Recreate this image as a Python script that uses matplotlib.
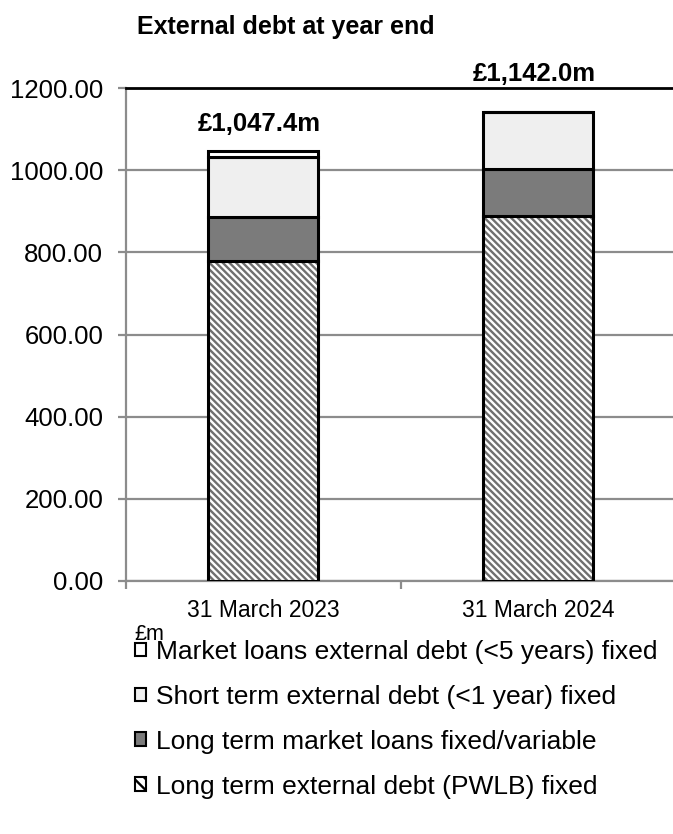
import matplotlib
matplotlib.use("Agg")
import matplotlib.pyplot as plt
from matplotlib.patches import Patch

plt.rcParams['font.family'] = ['Liberation Sans', 'DejaVu Sans']
plt.rcParams['hatch.linewidth'] = 1.7

categories = ["31 March 2023", "31 March 2024"]
pwlb = [779.6, 889.2]
market_long = [107.2, 113.8]
short_term = [146.0, 139.0]
market_short = [14.6, 0.0]
totals = [1047.4, 1142.0]
total_labels = ["£1,047.4m", "£1,142.0m"]

series_names = [
    "Long term external debt (PWLB) fixed",
    "Long term market loans fixed/variable",
    "Short term external debt (<1 year) fixed",
    "Market loans external debt (<5 years) fixed",
]

W, H, DPI = 673, 834, 100
fig = plt.figure(figsize=(W / DPI, H / DPI), dpi=DPI)
ax = fig.add_axes([125.5 / W, 1 - 581 / H, 550 / W, (581 - 88) / H])

x = list(range(len(categories)))
bw = 0.4
edge = "black"
lw = 2.2
hatch = "\\\\\\\\\\"

# hatched base segment: hatch drawn in grey, outline drawn separately in black
ax.bar(x, pwlb, bw, color="white", edgecolor="#707070", hatch=hatch, linewidth=0, zorder=3)
ax.bar(x, pwlb, bw, color="none", edgecolor=edge, linewidth=lw, zorder=4)
b1 = [p for p in pwlb]
ax.bar(x, market_long, bw, bottom=b1, color="#7b7b7b", edgecolor=edge, linewidth=lw, zorder=4)
b2 = [a + b for a, b in zip(b1, market_long)]
ax.bar(x, short_term, bw, bottom=b2, color="#efefef", edgecolor=edge, linewidth=lw, zorder=4)
b3 = [a + b for a, b in zip(b2, short_term)]
ax.bar(x, market_short, bw, bottom=b3, color="white", edgecolor=edge, linewidth=lw, zorder=4)

offsets = [19.5, 27.5]
for xi, t, lab, off in zip(x, totals, total_labels, offsets):
    ax.annotate(lab, (xi, t), xytext=(-2.5, off), textcoords="offset points",
                ha="center", va="center", fontsize=18.5, fontweight="bold",
                annotation_clip=False, zorder=5)

ax.set_xlim(-0.5, 1.5)
ax.set_ylim(0, 1200)
yt = [0, 200, 400, 600, 800, 1000, 1200]
ax.set_yticks(yt)
ax.set_yticklabels([f"{v:.2f}" for v in yt], fontsize=18.5)
ax.yaxis.grid(True, color="#8c8c8c", linewidth=1.6, zorder=0)
ax.set_axisbelow(True)

ax.set_xticks(x)
ax.set_xticklabels(categories, fontsize=16.5)
ax.set_xticks([-0.5, 0.5, 1.5], minor=True)
ax.tick_params(axis="x", which="major", length=0, pad=13)
ax.tick_params(axis="x", which="minor", length=6, width=1.6, color="#8c8c8c")
ax.tick_params(axis="y", length=6, width=1.6, color="#8c8c8c", pad=10)

ax.spines["right"].set_visible(False)
ax.spines["left"].set_color("#8c8c8c")
ax.spines["left"].set_linewidth(1.6)
ax.spines["bottom"].set_color("#8c8c8c")
ax.spines["bottom"].set_linewidth(1.6)
ax.spines["top"].set_color("black")
ax.spines["top"].set_linewidth(2.0)

fig.text(286 / W, 1 - 27 / H, "External debt at year end", ha="center", va="center",
         fontsize=18, fontweight="bold")
fig.text(134 / W, 1 - 634 / H, "£m", ha="left", va="center", fontsize=15.5)

handles = [
    Patch(facecolor="white", edgecolor="black", linewidth=1.5, label=series_names[3]),
    Patch(facecolor="#efefef", edgecolor="black", linewidth=1.5, label=series_names[2]),
    Patch(facecolor="#7b7b7b", edgecolor="black", linewidth=1.5, label=series_names[1]),
    Patch(facecolor="white", edgecolor="black", linewidth=1.5, hatch="\\\\\\", label=series_names[0]),
]
fig.legend(handles=handles, loc="upper left", bbox_to_anchor=(135 / W, 1 - 640 / H),
           frameon=False, fontsize=19, handlelength=0.42, handleheight=0.42,
           handletextpad=0.38, labelspacing=0.79, borderaxespad=0, borderpad=0)

fig.savefig("out.png", dpi=DPI)
